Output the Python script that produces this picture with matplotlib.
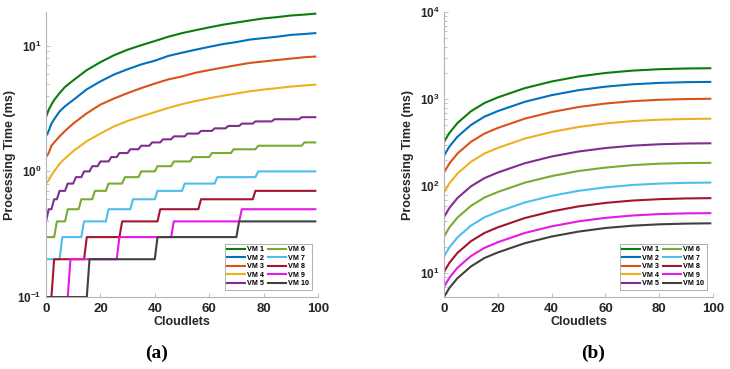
import matplotlib
matplotlib.use("Agg")
import matplotlib.pyplot as plt
import numpy as np
from matplotlib.ticker import FixedLocator, LogLocator, NullFormatter, FuncFormatter

plt.rcParams['font.family'] = ['Liberation Sans', 'DejaVu Sans']
plt.rcParams['mathtext.fontset'] = 'custom'
plt.rcParams['mathtext.bf'] = 'Liberation Sans:bold'
plt.rcParams['mathtext.rm'] = 'Liberation Sans:bold'

labels = ['VM 1', 'VM 2', 'VM 3', 'VM 4', 'VM 5', 'VM 6', 'VM 7', 'VM 8', 'VM 9', 'VM 10']
colors = ['#0a7d0a', '#0072BD', '#D95319', '#EDB120', '#7E2F8E',
          '#77AC30', '#4DBEEE', '#A2142F', '#E619E6', '#404040']

# ---------- panel (a) ----------
# smooth series (VM1-VM4) sampled at these cloudlet counts
xa = [0, 1, 2, 3, 5, 7, 10, 15, 20, 25, 30, 35, 40, 45, 50, 55, 60, 65, 70, 75, 80, 85, 90, 95, 99]
a_vm1 = [2.7, 3.1, 3.4, 3.7, 4.2, 4.7, 5.3, 6.4, 7.4, 8.4, 9.3, 10.1, 10.9, 11.8, 12.6, 13.3, 14.0, 14.7, 15.3, 15.9, 16.5, 16.9, 17.4, 17.7, 18.0]
a_vm2 = [1.9, 2.1, 2.4, 2.6, 3.0, 3.3, 3.7, 4.5, 5.2, 5.9, 6.5, 7.1, 7.6, 8.3, 8.8, 9.3, 9.8, 10.3, 10.7, 11.2, 11.5, 11.8, 12.2, 12.4, 12.6]
a_vm3 = [1.3, 1.4, 1.6, 1.7, 1.9, 2.1, 2.4, 2.9, 3.4, 3.8, 4.2, 4.6, 5.0, 5.4, 5.7, 6.1, 6.4, 6.7, 7.0, 7.3, 7.5, 7.7, 7.9, 8.1, 8.2]
a_vm4 = [0.8, 0.85, 0.93, 1.0, 1.15, 1.27, 1.45, 1.74, 2.0, 2.28, 2.52, 2.74, 2.96, 3.2, 3.43, 3.63, 3.82, 4.0, 4.17, 4.34, 4.48, 4.6, 4.73, 4.83, 4.9]

# stepped series (VM5-VM10): start level (ms) and cloudlet index where each +0.1 ms step begins
a_vm5_start = 0.4
a_vm5_steps = [1, 3, 5, 8, 11, 14, 17, 20, 24, 27, 31, 35, 39, 43, 47, 52, 57, 62, 67, 72, 77, 84, 94]
a_vm6_start = 0.3
a_vm6_steps = [4, 8, 13, 18, 23, 29, 35, 41, 47, 54, 61, 69, 78, 95]
a_vm7_start = 0.2
a_vm7_steps = [6, 14, 23, 32, 41, 51, 63, 78]
a_vm8_start = 0.1
a_vm8_steps = [3, 15, 28, 42, 57, 77]
a_vm9_start = 0.1
a_vm9_steps = [9, 27, 47, 72]
a_vm10_start = 0.1
a_vm10_steps = [16, 41, 71]
step_size = 0.1
n_cloudlets = 100

# ---------- panel (b) ----------
xb = [0, 2, 5, 10, 15, 20, 30, 40, 50, 60, 70, 80, 90, 99]
b_vm1 = [323, 410, 533, 727, 904, 1050, 1340, 1599, 1825, 2003, 2132, 2213, 2255, 2271]
b_vm2 = [225, 286, 371, 506, 630, 731, 934, 1114, 1271, 1395, 1485, 1541, 1571, 1582]
b_vm3 = [144, 183, 238, 324, 403, 468, 598, 713, 814, 893, 950, 986, 1005, 1012]
b_vm4 = [85, 108, 140, 191, 238, 276, 353, 421, 480, 527, 561, 582, 593, 598]
b_vm5 = [44.4, 56.4, 73.3, 99.9, 124, 144, 184, 220, 251, 275, 293, 304, 310, 312]
b_vm6 = [26.5, 33.7, 43.7, 59.6, 74.2, 86.1, 110, 131, 150, 164, 175, 182, 185, 186]
b_vm7 = [15.7, 19.9, 25.9, 35.3, 44.0, 51.0, 65.2, 77.7, 88.7, 97.3, 103.6, 107.5, 109.6, 110.4]
b_vm8 = [10.4, 13.2, 17.2, 23.4, 29.1, 33.8, 43.2, 51.5, 58.8, 64.5, 68.6, 71.2, 72.6, 73.1]
b_vm9 = [7.0, 8.9, 11.6, 15.8, 19.6, 22.8, 29.1, 34.7, 39.6, 43.4, 46.2, 48.0, 48.9, 49.2]
b_vm10 = [5.35, 6.8, 8.8, 12.0, 15.0, 17.4, 22.2, 26.5, 30.2, 33.2, 35.3, 36.6, 37.3, 37.6]


def stepped(start, steps):
    x = np.arange(n_cloudlets)
    y = start + step_size * np.array([sum(1 for s in steps if s <= xi) for xi in x])
    return x, y


fig = plt.figure(figsize=(7.30, 3.69), dpi=100)
axA = fig.add_axes([0.063, 0.195, 0.3726, 0.772])
axB = fig.add_axes([0.6082, 0.195, 0.3685, 0.772])

lw = 1.5
series_a = [(xa, a_vm1), (xa, a_vm2), (xa, a_vm3), (xa, a_vm4),
            stepped(a_vm5_start, a_vm5_steps), stepped(a_vm6_start, a_vm6_steps),
            stepped(a_vm7_start, a_vm7_steps), stepped(a_vm8_start, a_vm8_steps),
            stepped(a_vm9_start, a_vm9_steps), stepped(a_vm10_start, a_vm10_steps)]
for (x, y), c, lab in zip(series_a, colors, labels):
    axA.plot(x, y, color=c, lw=lw, label=lab)

series_b = [b_vm1, b_vm2, b_vm3, b_vm4, b_vm5, b_vm6, b_vm7, b_vm8, b_vm9, b_vm10]
for y, c, lab in zip(series_b, colors, labels):
    axB.plot(xb, y, color=c, lw=lw, label=lab)


def fmt(v, pos):
    e = int(round(np.log10(v)))
    return r'$\mathbf{10^{%d}}$' % e


spine_col = '#b5b5b5'
for ax, ylim, majors in [(axA, (0.1, 18.5), [0.1, 1, 10]), (axB, (5.35, 1e4), [10, 100, 1000, 10000])]:
    ax.set_yscale('log')
    ax.set_xlim(0, 100)
    ax.set_ylim(*ylim)
    ax.yaxis.set_major_locator(FixedLocator(majors))
    ax.yaxis.set_major_formatter(FuncFormatter(fmt))
    ax.yaxis.set_minor_locator(LogLocator(base=10, subs=np.arange(2, 10)))
    ax.yaxis.set_minor_formatter(NullFormatter())
    ax.set_xticks([0, 20, 40, 60, 80, 100])
    for s in ['top', 'right']:
        ax.spines[s].set_visible(False)
    for s in ['left', 'bottom']:
        ax.spines[s].set_color(spine_col)
        ax.spines[s].set_linewidth(0.8)
    ax.tick_params(which='both', direction='in', color=spine_col, labelcolor='#262626', width=0.6)
    ax.tick_params(axis='x', labelsize=9.5, pad=4)
    ax.tick_params(axis='y', labelsize=8.5, pad=3)
    ax.tick_params(which='major', length=3)
    ax.tick_params(which='minor', length=1.8)
    for t in ax.get_xticklabels():
        t.set_fontweight('bold')
    ax.set_xlabel('Cloudlets', fontsize=9, fontweight='bold', color='#262626', labelpad=1)
    ax.set_ylabel('Processing Time (ms)', fontsize=9, fontweight='bold', color='#262626')
    ax.yaxis.set_label_coords(-0.11, 0.5)
    leg = ax.legend(loc='lower right', ncol=2, prop={'weight': 'bold', 'size': 5.2},
                    frameon=True, fancybox=False, handlelength=2.5, handletextpad=0.3,
                    columnspacing=0.5, labelspacing=0.2, borderpad=0.35,
                    bbox_to_anchor=(0.99, 0.012))
    leg.get_frame().set_edgecolor('#8c8c8c')
    leg.get_frame().set_linewidth(0.6)

fig.text(157 / 730, 1 - 353 / 369, '(a)', ha='center', va='center', fontsize=14,
         family=['Liberation Serif', 'DejaVu Serif'], fontweight='bold')
fig.text(593 / 730, 1 - 353 / 369, '(b)', ha='center', va='center', fontsize=14,
         family=['Liberation Serif', 'DejaVu Serif'], fontweight='bold')

fig.savefig('out.png', dpi=100)
